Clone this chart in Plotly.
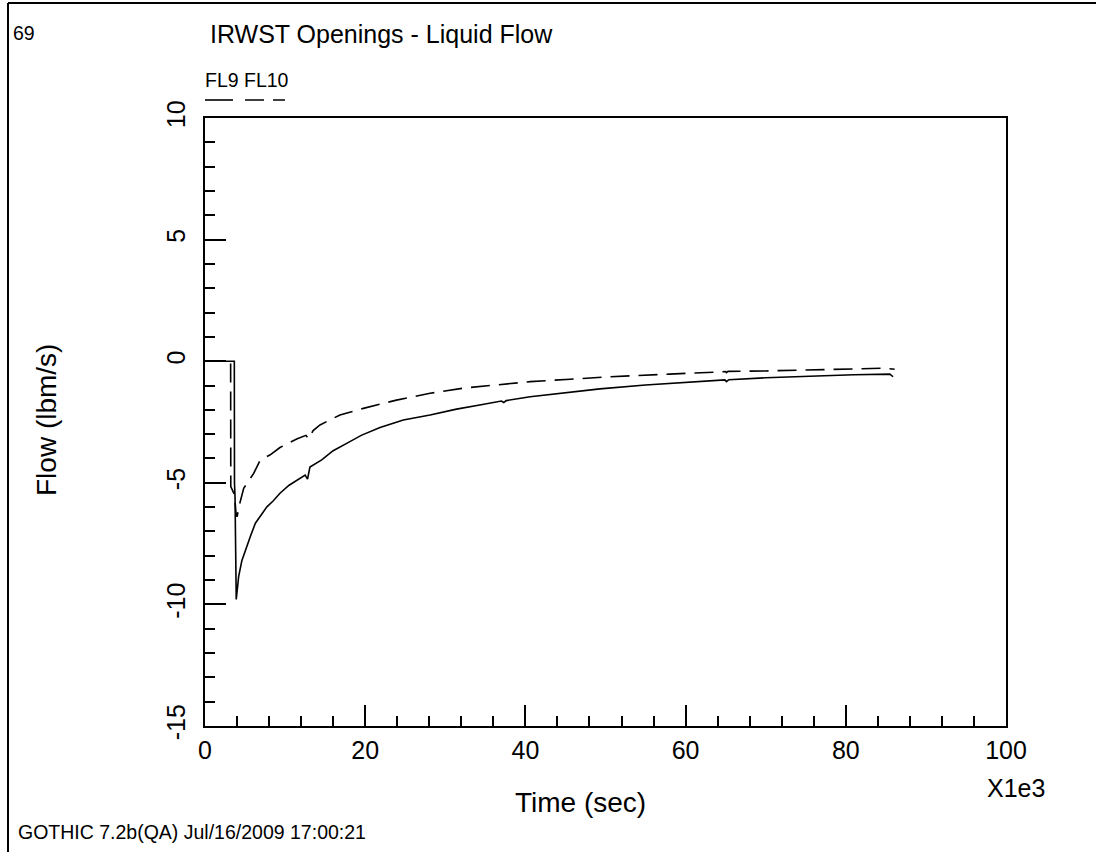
import plotly.graph_objects as go

# Time in units of 1e3 s (axis shows "X1e3")
fl9_t = [0, 3.66, 3.68, 3.75, 3.9, 4.0, 4.2, 4.6, 5.03, 5.66, 6.29, 7.1, 7.7, 8.5, 9.36, 10.5, 11.86,
         12.5, 12.8, 13.1, 14.57, 16.0, 17.69, 19.5, 21.85, 23.5, 24.76, 28.1, 31.4, 34.3, 37.0, 37.3,
         37.6, 40.6, 46.8, 49.3, 55.0, 60.0, 64.9, 65.1, 65.4, 70.0, 76.4, 81.0, 85.5, 85.9]
fl9_y = [0, 0, -5.0, -5.6, -9.8, -9.5, -8.86, -8.2, -7.76, -7.21, -6.66, -6.25, -6.0, -5.75, -5.43, -5.1, -4.8,
         -4.68, -4.85, -4.35, -4.06, -3.68, -3.38, -3.05, -2.73, -2.55, -2.42, -2.21, -1.97, -1.8, -1.64, -1.7,
         -1.62, -1.46, -1.23, -1.14, -0.98, -0.87, -0.77, -0.84, -0.76, -0.68, -0.6, -0.56, -0.53, -0.64]

fl10_t = [0, 3.2, 3.22, 3.7, 3.85, 4.0, 4.3, 4.83, 5.5, 6.08, 6.9, 8.1, 9.36, 11.45, 12.6, 12.95, 13.5,
          14.36, 16.85, 19.77, 23.9, 28.1, 32.2, 36.4, 40.6, 45.6, 50.6, 58.0, 65.0, 65.1, 65.3, 70.0,
          76.4, 84.6, 86.1]
fl10_y = [0, 0, -5.16, -5.5, -6.2, -6.4, -5.9, -5.23, -4.9, -4.61, -4.06, -3.86, -3.55, -3.2, -3.05, -3.2, -2.85,
          -2.62, -2.21, -1.94, -1.6, -1.32, -1.11, -0.98, -0.84, -0.74, -0.64, -0.53, -0.43, -0.47, -0.42, -0.4,
          -0.36, -0.29, -0.33]

x_ticks = [0, 20, 40, 60, 80, 100]
y_ticks = [-15, -10, -5, 0, 5, 10]

FONT = "Liberation Sans, Arial, sans-serif"
DASH = "19px,9px"

fig = go.Figure()
fig.add_trace(go.Scatter(x=fl9_t, y=fl9_y, mode="lines", name="FL9",
                         line=dict(color="black", width=1.6)))
fig.add_trace(go.Scatter(x=fl10_t, y=fl10_y, mode="lines", name="FL10",
                         line=dict(color="black", width=1.6, dash=DASH)))

axis_common = dict(showline=True, linecolor="black", linewidth=2, mirror=True,
                   ticks="inside", tickwidth=2, ticklen=21, tickcolor="black",
                   showgrid=False, zeroline=False,
                   tickfont=dict(family=FONT, size=25, color="black"))

fig.update_xaxes(range=[0, 100], tickvals=x_ticks, ticktext=[str(v) for v in x_ticks],
                 minor=dict(dtick=4, ticks="inside", ticklen=10, tickwidth=1.5, tickcolor="black"),
                 ticklabelstandoff=1, **axis_common)
fig.update_yaxes(range=[-15, 10], tickvals=y_ticks, ticktext=[str(v) for v in y_ticks],
                 tickangle=-90,
                 minor=dict(dtick=1, ticks="inside", ticklen=10, tickwidth=1.5, tickcolor="black"),
                 ticklabelstandoff=8, **axis_common)

W, H = 1096, 852
L, R, T, B = 205, 90, 118, 126
pw, ph = W - L - R, H - T - B

def px(x):
    return (x - L) / pw

def py(y):
    return (H - B - y) / ph

annotations = [
    dict(text="69", x=px(11), y=py(33), xanchor="left", yanchor="middle", size=19.5),
    dict(text="IRWST Openings - Liquid Flow", x=px(208), y=py(34), xanchor="left", yanchor="middle", size=25),
    dict(text="FL9 FL10", x=px(203), y=py(80), xanchor="left", yanchor="middle", size=19.5),
    dict(text="X1e3", x=px(985), y=py(788), xanchor="left", yanchor="middle", size=25),
    dict(text="Time (sec)", x=px(580), y=py(802), xanchor="center", yanchor="middle", size=28),
    dict(text="GOTHIC 7.2b(QA) Jul/16/2009 17:00:21", x=px(16), y=py(832), xanchor="left", yanchor="middle", size=19.5),
]
anns = []
for a in annotations:
    anns.append(dict(text=a["text"], x=a["x"], y=a["y"], xref="paper", yref="paper",
                     xanchor=a["xanchor"], yanchor=a["yanchor"], showarrow=False,
                     font=dict(family=FONT, size=a["size"], color="black")))
anns.append(dict(text="Flow (lbm/s)", x=px(46), y=py(420), xref="paper", yref="paper",
                 xanchor="center", yanchor="middle", showarrow=False, textangle=-90,
                 font=dict(family=FONT, size=28, color="black")))

shapes = [
    # outer frame
    dict(type="line", xref="paper", yref="paper", x0=px(8), x1=px(1110), y0=py(3), y1=py(3),
         line=dict(color="black", width=2)),
    dict(type="line", xref="paper", yref="paper", x0=px(8), x1=px(8), y0=py(3), y1=py(870),
         line=dict(color="black", width=2)),
    # legend samples
    dict(type="line", xref="paper", yref="paper", x0=px(205), x1=px(233), y0=py(100), y1=py(100),
         line=dict(color="black", width=1.6)),
    dict(type="line", xref="paper", yref="paper", x0=px(245), x1=px(285), y0=py(100), y1=py(100),
         line=dict(color="black", width=1.6, dash=DASH)),
]

fig.update_layout(width=W, height=H, margin=dict(l=L, r=R, t=T, b=B),
                  paper_bgcolor="white", plot_bgcolor="white", showlegend=False,
                  annotations=anns, shapes=shapes, font=dict(family=FONT, color="black"))

fig.write_html("out.html")
